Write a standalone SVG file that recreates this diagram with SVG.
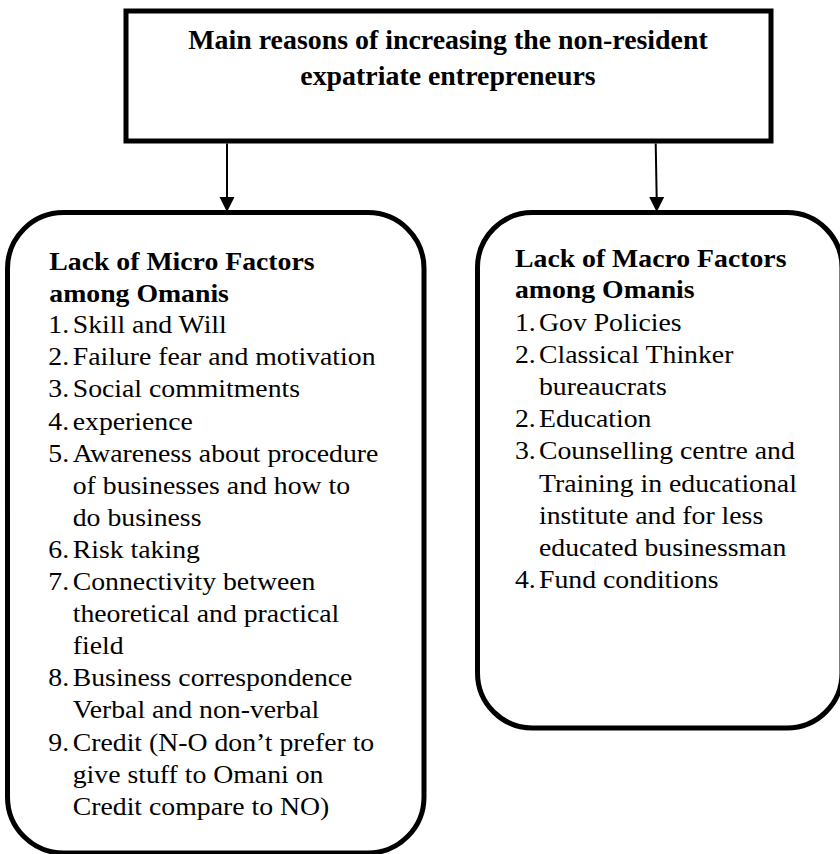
<svg xmlns="http://www.w3.org/2000/svg" width="840" height="854" viewBox="0 0 840 854">
<style>
.box{fill:#fff;stroke:#000;stroke-width:5}
.t{font-family:"Liberation Serif","Times New Roman",serif;font-size:25px;fill:#000}
.b{font-weight:bold}
.title{font-family:"Liberation Serif","Times New Roman",serif;font-size:26.5px;font-weight:bold;fill:#000;text-anchor:middle}
.conn{stroke:#000;stroke-width:2;fill:none}
</style>
<rect width="840" height="854" fill="#fff"/>
<g id="title">
<rect class="box" x="126" y="11" width="645" height="130"/>
<g transform="translate(448,0) scale(1.052,1)">
<text class="title" x="0" y="49.3">Main reasons of increasing the non-resident</text>
<text class="title" x="0" y="85">expatriate entrepreneurs</text>
</g>
</g>
<g id="connectors">
<line class="conn" x1="227" y1="143.5" x2="227" y2="199"/>
<polygon points="219.5,197 234.5,197 227,212" fill="#000"/>
<line class="conn" x1="655.7" y1="143.5" x2="656.7" y2="199"/>
<polygon points="649.2,197 664.2,197 656.7,212" fill="#000"/>
</g>
<g id="micro">
<rect class="box" x="7.5" y="212.5" width="416.5" height="640.5" rx="56" ry="56"/>
<g transform="translate(48.3,0) scale(1.11,1)">
<text class="t b" x="0.9" y="270">Lack of Micro Factors</text>
<text class="t b" x="0.9" y="301.7">among Omanis</text>
<text class="t" x="0" y="333.3">1.</text><text class="t" x="22" y="333.3">Skill and Will</text>
<text class="t" x="0" y="365.4">2.</text><text class="t" x="22" y="365.4">Failure fear and motivation</text>
<text class="t" x="0" y="397.5">3.</text><text class="t" x="22" y="397.5">Social commitments</text>
<text class="t" x="0" y="429.6">4.</text><text class="t" x="22" y="429.6">experience</text>
<text class="t" x="0" y="461.7">5.</text><text class="t" x="22" y="461.7">Awareness about procedure</text>
<text class="t" x="22" y="493.8">of businesses and how to</text>
<text class="t" x="22" y="525.9">do business</text>
<text class="t" x="0" y="558">6.</text><text class="t" x="22" y="558">Risk taking</text>
<text class="t" x="0" y="590.1">7.</text><text class="t" x="22" y="590.1">Connectivity between</text>
<text class="t" x="22" y="622.2">theoretical and practical</text>
<text class="t" x="22" y="654.3">field</text>
<text class="t" x="0" y="686.4">8.</text><text class="t" x="22" y="686.4">Business correspondence</text>
<text class="t" x="22" y="718.5">Verbal and non-verbal</text>
<text class="t" x="0" y="750.6">9.</text><text class="t" x="22" y="750.6">Credit (N-O don’t prefer to</text>
<text class="t" x="22" y="782.7">give stuff to Omani on</text>
<text class="t" x="22" y="814.8">Credit compare to NO)</text>
</g>
</g>
<g id="macro">
<rect class="box" x="477.5" y="212.5" width="364.5" height="515.5" rx="55" ry="55"/>
<g transform="translate(515,0) scale(1.11,1)">
<text class="t b" x="0" y="267.3">Lack of Macro Factors</text>
<text class="t b" x="0" y="298.3">among Omanis</text>
<text class="t" x="0" y="330.7">1.</text><text class="t" x="21.6" y="330.7">Gov Policies</text>
<text class="t" x="0" y="362.9">2.</text><text class="t" x="21.6" y="362.9">Classical Thinker</text>
<text class="t" x="21.6" y="395.1">bureaucrats</text>
<text class="t" x="0" y="427.3">2.</text><text class="t" x="21.6" y="427.3">Education</text>
<text class="t" x="0" y="459.5">3.</text><text class="t" x="21.6" y="459.5">Counselling centre and</text>
<text class="t" x="21.6" y="491.7">Training in educational</text>
<text class="t" x="21.6" y="523.9">institute and for less</text>
<text class="t" x="21.6" y="556.1">educated businessman</text>
<text class="t" x="0" y="588.3">4.</text><text class="t" x="21.6" y="588.3">Fund conditions</text>
</g>
</g>
</svg>
